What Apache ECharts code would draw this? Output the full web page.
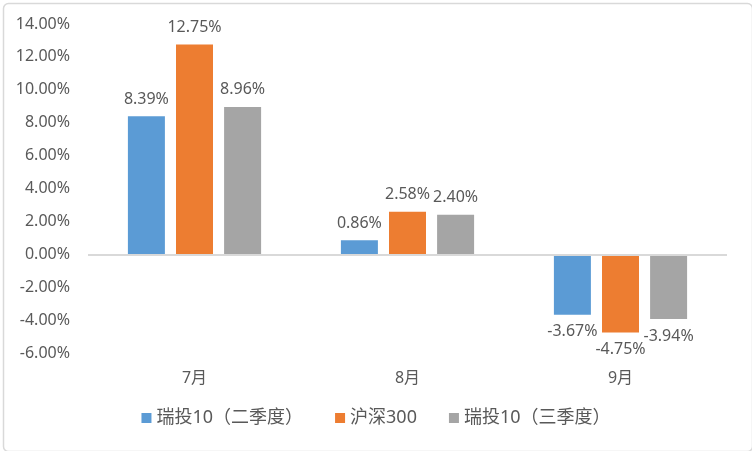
<!DOCTYPE html>
<html><head><meta charset="utf-8">
<script src="https://cdn.jsdelivr.net/npm/echarts@6/dist/echarts.min.js"></script>
<style>html,body{margin:0;padding:0;background:#fff;}#c{width:752px;height:451px;}</style>
</head><body><div id="c"></div>
<script>
const categories = ['7月', '8月', '9月'];
const seriesNames = ['瑞投10（二季度）', '沪深300', '瑞投10（三季度）'];
const q2Values = [8.39, 0.86, -3.67];
const hs300Values = [12.75, 2.58, -4.75];
const q3Values = [8.96, 2.40, -3.94];
const yTicks = { min: -6, max: 14, interval: 2 };

const colors = ['#5B9BD5', '#ED7D31', '#A5A5A5'];
const FONT = "'Noto Sans', 'Noto Sans CJK SC', sans-serif";
const TXT = '#595959';

function toData(vals) {
  return vals.map(v => ({ value: v, label: { position: v < 0 ? 'bottom' : 'top' } }));
}
const allVals = [q2Values, hs300Values, q3Values];
const series = allVals.map((vals, i) => ({
  name: seriesNames[i],
  type: 'bar',
  data: toData(vals),
  barWidth: 37,
  barGap: '30%',
  itemStyle: { color: colors[i] },
  label: {
    show: true, distance: 9, color: TXT, fontSize: 16, fontFamily: FONT,
    formatter: p => p.value.toFixed(2) + '%'
  },
  markLine: i === 0 ? {
    silent: true, symbol: 'none', label: { show: false },
    lineStyle: { color: '#D9D9D9', width: 2, type: 'solid' },
    data: [{ yAxis: 0 }]
  } : undefined
}));

const chart = echarts.init(document.getElementById('c'));
chart.setOption({
  animation: false,
  textStyle: { fontFamily: FONT },
  graphic: [{
    type: 'rect', left: 1, top: 1, shape: { width: 749, height: 448, r: 5 },
    style: { fill: 'none', stroke: '#D9D9D9', lineWidth: 1.5 }, z: 100, silent: true
  }],
  grid: { left: 88, right: 25, top: 24, bottom: 98, containLabel: false },
  legend: {
    bottom: 19, left: 'center', itemWidth: 10, itemHeight: 10, itemGap: 32,
    icon: 'rect',
    textStyle: { color: TXT, fontSize: 18, fontFamily: FONT },
    data: seriesNames
  },
  xAxis: {
    type: 'category', data: categories,
    axisLine: { show: false }, axisTick: { show: false },
    axisLabel: { color: TXT, fontSize: 16, fontFamily: FONT, margin: 17 }
  },
  yAxis: {
    type: 'value', min: yTicks.min, max: yTicks.max, interval: yTicks.interval,
    splitLine: { show: false }, axisLine: { show: false }, axisTick: { show: false },
    axisLabel: { color: TXT, fontSize: 16, fontFamily: FONT, margin: 18,
      formatter: v => v.toFixed(2) + '%' }
  },
  series: series
});
</script></body></html>
